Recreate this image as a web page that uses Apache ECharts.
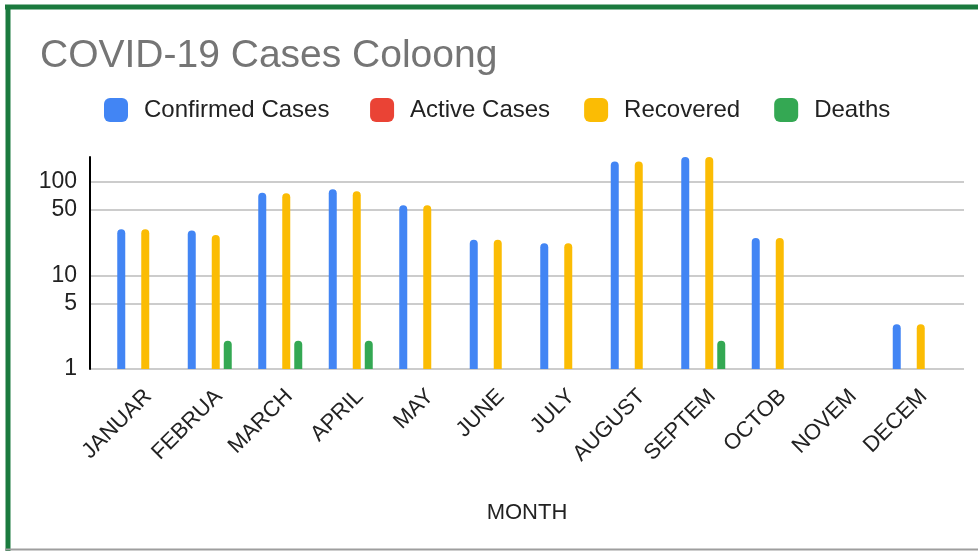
<!DOCTYPE html>
<html>
<head>
<meta charset="utf-8">
<script src="https://cdn.jsdelivr.net/npm/echarts@6/dist/echarts.min.js"></script>
<style>
  html, body { margin: 0; padding: 0; background: #fff; }
  #chart { width: 978px; height: 551px; }
</style>
</head>
<body>
<div id="chart"></div>
<script>
// month labels as shown on the axis (truncated in the source sheet)
var months = ['JANUAR', 'FEBRUA', 'MARCH', 'APRIL', 'MAY', 'JUNE', 'JULY', 'AUGUST', 'SEPTEM', 'OCTOB', 'NOVEM', 'DECEM'];
var confirmed = [31, 30, 76, 83, 56, 24, 22, 164, 183, 25, 1, 3];
var active = [0, 0, 0, 0, 0, 0, 0, 0, 0, 0, 0, 0];
var recovered = [31, 27, 75, 79, 56, 24, 22, 164, 183, 25, 1, 3];
var deaths = [0, 2, 2, 2, 1, 0, 0, 0, 2, 0, 0, 0];
var yTicks = [1, 5, 10, 50, 100];

var font = 'Arial, "Liberation Sans", sans-serif';
var yMax = Math.max.apply(null, confirmed.concat(recovered));

// log axis can't show zero, leave those empty
function noZero(arr) {
  return arr.map(function (v) { return v > 0 ? v : '-'; });
}

function barSeries(name, color, data) {
  return {
    name: name,
    type: 'bar',
    xAxisIndex: 1,
    yAxisIndex: 1,
    barWidth: 8,
    barGap: '50%',
    itemStyle: { color: color, borderRadius: [4, 4, 0, 0] },
    data: noZero(data)
  };
}

var myChart = echarts.init(document.getElementById('chart'));
myChart.setOption({
  animation: false,
  title: {
    text: 'COVID-19 Cases Coloong',
    left: 35,
    top: 32,
    textStyle: { fontFamily: font, fontSize: 39, fontWeight: 'normal', color: '#757575' }
  },
  legend: {
    left: 104,
    top: 98,
    padding: 0,
    itemWidth: 24,
    itemHeight: 24,
    itemGap: 34,
    icon: 'roundRect',
    // first entry sits a little wider in the original
    formatter: function (name) {
      return name === 'Confirmed Cases' ? name + '\u00a0' : name;
    },
    textStyle: { fontFamily: font, fontSize: 24, color: '#222', padding: [0, 0, 0, 11] },
    data: ['Confirmed Cases', 'Active Cases', 'Recovered', 'Deaths']
  },
  grid: [
    // frame for y axis and gridlines
    { left: 90, right: 14, top: 157, bottom: 182 },
    // bars sit a bit inside
    { left: 104, right: 28, top: 157, bottom: 182 },
    // month labels, nudged right like the original
    { left: 113, right: 19, top: 157, bottom: 182 }
  ],
  xAxis: [
    { type: 'category', gridIndex: 0, data: months, show: false },
    {
      type: 'category',
      gridIndex: 1,
      data: months,
      name: 'MONTH',
      nameLocation: 'middle',
      nameGap: 133,
      nameTextStyle: { fontFamily: font, fontSize: 22, color: '#222' },
      axisLine: { show: false },
      axisTick: { show: false },
      axisLabel: { show: false }
    },
    {
      type: 'category',
      gridIndex: 2,
      data: months,
      axisLine: { show: false },
      axisTick: { show: false },
      axisLabel: {
        rotate: 45,
        margin: 24,
        interval: 0,
        fontFamily: font,
        fontSize: 22,
        color: '#222'
      }
    }
  ],
  yAxis: [
    {
      type: 'log',
      logBase: 10,
      gridIndex: 0,
      min: 1,
      max: yMax,
      axisLine: { show: true, lineStyle: { color: '#000', width: 2 } },
      axisTick: { show: false, customValues: yTicks },
      axisLabel: { customValues: yTicks, margin: 13, fontFamily: font, fontSize: 23, color: '#222' },
      splitLine: { show: true, lineStyle: { color: '#cccccc', width: 2 } }
    },
    {
      type: 'log',
      logBase: 10,
      gridIndex: 1,
      min: 1,
      max: yMax,
      show: false,
      splitLine: { show: false }
    },
    { type: 'value', gridIndex: 2, show: false, splitLine: { show: false } }
  ],
  graphic: [
    { type: 'line', shape: { x1: 5, y1: 7, x2: 978, y2: 7 }, style: { stroke: '#1b7a3e', lineWidth: 5 } },
    { type: 'line', shape: { x1: 8, y1: 5, x2: 8, y2: 551 }, style: { stroke: '#1b7a3e', lineWidth: 5 } },
    { type: 'line', shape: { x1: 5, y1: 549.5, x2: 978, y2: 549.5 }, style: { stroke: '#9e9e9e', lineWidth: 2 } }
  ],
  series: [
    barSeries('Confirmed Cases', '#4285F4', confirmed),
    barSeries('Active Cases', '#EA4335', active),
    barSeries('Recovered', '#FBBC04', recovered),
    barSeries('Deaths', '#34A853', deaths)
  ]
});
</script>
</body>
</html>
